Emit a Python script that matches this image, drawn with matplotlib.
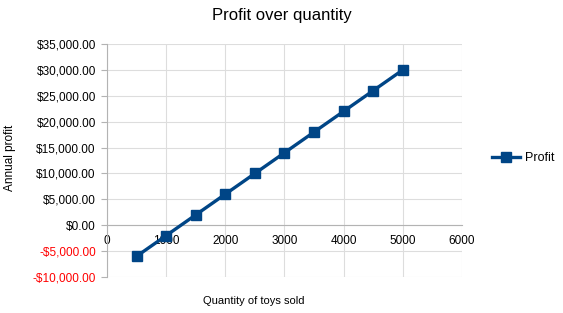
import matplotlib.pyplot as plt

plt.rcParams['font.family'] = ['Liberation Sans', 'DejaVu Sans']

quantity = [500, 1000, 1500, 2000, 2500, 3000, 3500, 4000, 4500, 5000]
profit = [-6000, -2000, 2000, 6000, 10000, 14000, 18000, 22000, 26000, 30000]
yticks = list(range(-10000, 35001, 5000))
xticks = list(range(0, 6001, 1000))

fig = plt.figure(figsize=(5.63, 3.13), dpi=100)
ax = fig.add_axes([0.190, 0.115, 0.6306, 0.7444])

ax.plot(quantity, profit, color='#004586', lw=2.4, marker='s', ms=7.5,
        label='Profit', clip_on=False, zorder=3)

ax.set_xlim(0, 6000)
ax.set_ylim(-10000, 35000)
ax.set_xticks(xticks)
ax.set_yticks(yticks)
ax.set_yticklabels([("-$%s" % format(abs(v), ',.2f')) if v < 0 else "$%s" % format(v, ',.2f')
                    for v in yticks])
for lab, v in zip(ax.get_yticklabels(), yticks):
    if v < 0:
        lab.set_color('#ff0000')

ax.grid(True, color='#dddddd', lw=0.8)
ax.set_axisbelow(True)
for s in ['top', 'right']:
    ax.spines[s].set_visible(False)
ax.spines['left'].set_color('#b3b3b3')
ax.spines['bottom'].set_position(('data', 0))
ax.spines['bottom'].set_color('#b3b3b3')
ax.tick_params(axis='y', length=4, color='#b3b3b3', labelsize=8.5, pad=4)
ax.tick_params(axis='x', length=0, color='#b3b3b3', labelsize=8.5, pad=7)

fig.text(0.5, 0.95, 'Profit over quantity', ha='center', va='center', fontsize=12)
fig.text(0.451, 0.038, 'Quantity of toys sold', ha='center', va='center', fontsize=8)
fig.text(0.018, 0.495, 'Annual profit', ha='center', va='center', fontsize=8.5, rotation=90)

ax.legend(loc='center left', bbox_to_anchor=(1.085, 0.51), frameon=False, fontsize=9,
          handlelength=2.2, handletextpad=0.4, borderaxespad=0, borderpad=0)

fig.savefig('out.png', dpi=100)
